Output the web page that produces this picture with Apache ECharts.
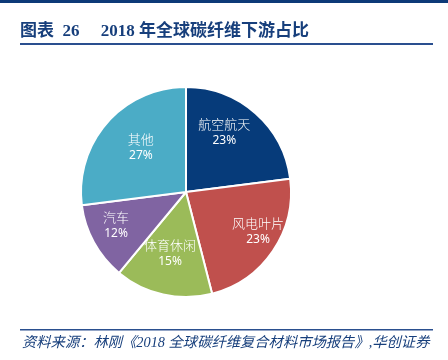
<!DOCTYPE html>
<html><head><meta charset="utf-8">
<script src="https://cdn.jsdelivr.net/npm/echarts@6/dist/echarts.min.js"></script>
<style>html,body{margin:0;padding:0;background:#fff}#c{width:448px;height:360px}</style>
</head><body><div id="c"></div>
<script>
const categories = ['航空航天', '风电叶片', '体育休闲', '汽车', '其他'];
const values = [23, 23, 15, 12, 27];
const colors = ['#063b7a', '#c0504d', '#9bbb59', '#8064a2', '#4bacc6'];
const titleText = '图表  26     2018 年全球碳纤维下游占比';
const sourceText = '资料来源：林刚《2018 全球碳纤维复合材料市场报告》,华创证券';
// label nudges (style only) to mimic the reference label placement
const labelNudge = [[-13, -2], [8, -4], [1, -15], [-2, -4], [13, 6]];

const navy = '#173f7c';
const chart = echarts.init(document.getElementById('c'));
chart.setOption({
  animation: false,
  graphic: [
    { type: 'rect', shape: { x: 0, y: 0, width: 448, height: 3 }, style: { fill: '#0d3a78' } },
    { type: 'text', x: 20, y: 32, style: { text: titleText, fill: navy, font: 'bold 17px "Liberation Serif", "Noto Sans CJK SC"', textVerticalAlign: 'middle' } },
    { type: 'rect', shape: { x: 20, y: 43, width: 413, height: 2 }, style: { fill: '#2a4f8f' } },
    { type: 'rect', shape: { x: 20, y: 329, width: 413, height: 1.5 }, style: { fill: '#2a4f8f' } },
    { type: 'text', x: 22, y: 343, style: { text: sourceText, fill: navy, font: 'italic 14.3px "Liberation Serif", "Noto Sans CJK SC"', textVerticalAlign: 'middle' } }
  ],
  series: [
    {
      type: 'pie', center: [186, 192], radius: 105, startAngle: 90, clockwise: true,
      data: categories.map((c, i) => ({ name: c, value: values[i], itemStyle: { color: colors[i] } })),
      label: { show: false }, labelLine: { show: false },
      itemStyle: { borderColor: '#fff', borderWidth: 2 }, silent: true
    },
    {
      type: 'pie', center: [186, 192], radius: [44, 105], startAngle: 90, clockwise: true,
      data: categories.map((c, i) => ({ name: c, value: values[i], label: { offset: labelNudge[i] } })),
      itemStyle: { color: 'rgba(0,0,0,0)' }, silent: true, z: 5,
      label: {
        show: true, position: 'inside', overflow: 'none', formatter: '{n|{b}}\n{p|{d}%}',
        rich: {
          n: { color: '#fff', fontSize: 13, fontFamily: 'Noto Sans CJK SC', fontWeight: 300, lineHeight: 17 },
          p: { color: '#fff', fontSize: 12, fontFamily: 'Noto Sans', lineHeight: 16 }
        }
      },
      labelLine: { show: false }
    }
  ]
});
</script></body></html>
